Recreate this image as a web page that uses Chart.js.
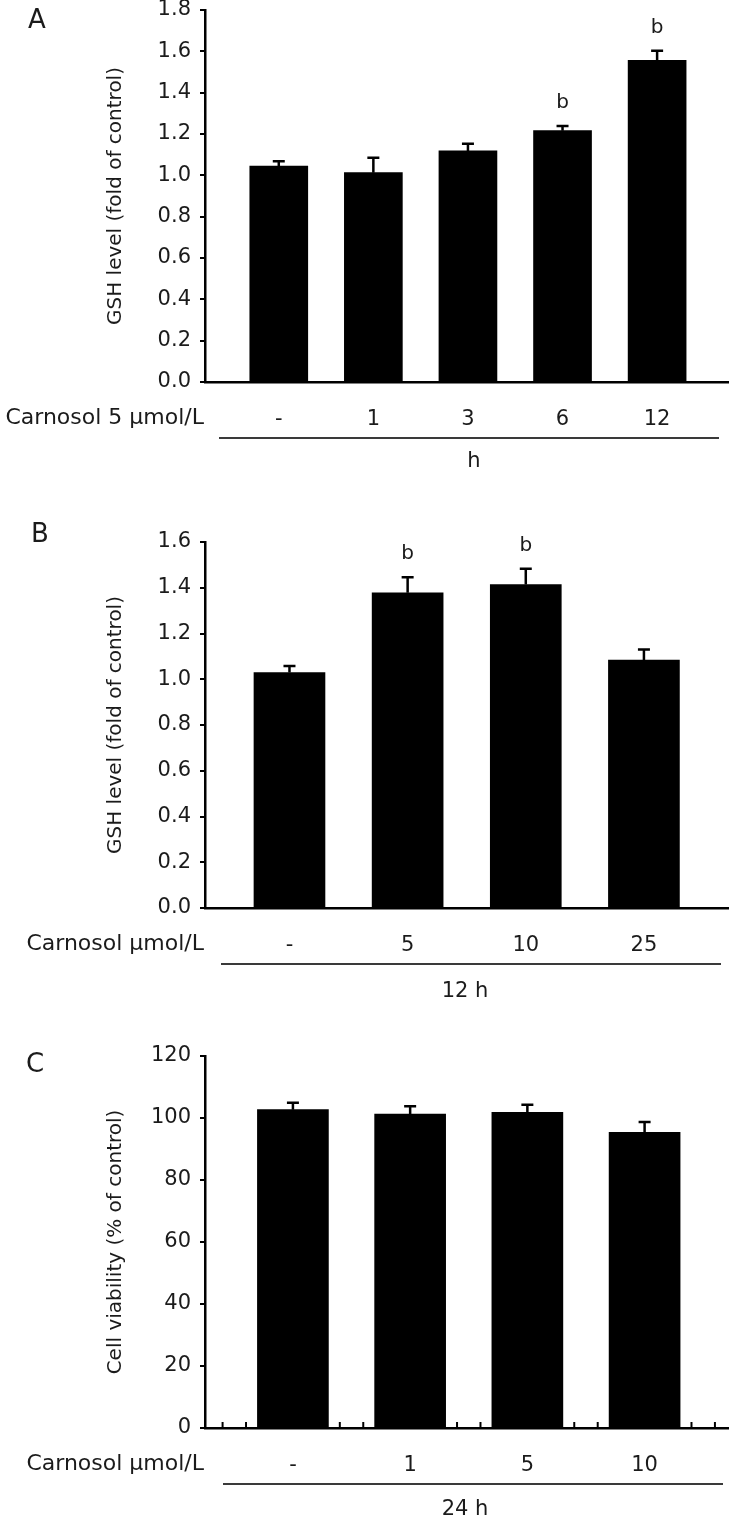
<!DOCTYPE html>
<html>
<head>
<meta charset="utf-8">
<script src="https://cdn.jsdelivr.net/npm/chart.js@4"></script>
<style>
  html, body { margin: 0; padding: 0; background: #fff; overflow: hidden; }
  #wrap { position: relative; width: 729px; height: 1518px; }
  canvas { position: absolute; left: 0; }
</style>
</head>
<body>
<div id="wrap">
  <canvas id="chartA" width="729" height="480" style="top:0px"></canvas>
  <canvas id="chartB" width="729" height="520" style="top:480px"></canvas>
  <canvas id="chartC" width="729" height="518" style="top:1000px"></canvas>
</div>
<script>
// A: GSH over time, carnosol 5 umol/L
const timeLabels = ['-', '1', '3', '6', '12'];
const gshTime = [1.045, 1.013, 1.118, 1.216, 1.556];
const gshTimeErr = [0.023, 0.072, 0.035, 0.023, 0.047];
const gshTimeSig = ['', '', '', 'b', 'b'];

// B: GSH by dose, 12 h
const doseLabels = ['-', '5', '10', '25'];
const gshDose = [1.029, 1.378, 1.414, 1.084];
const gshDoseErr = [0.029, 0.068, 0.069, 0.046];
const gshDoseSig = ['', 'b', 'b', ''];

// C: cell viability, 24 h
const viabLabels = ['-', '1', '5', '10'];
const viability = [102.7, 101.3, 101.8, 95.4];
const viabilityErr = [2.2, 2.5, 2.5, 3.3];
const viabMinorTicks = [0.4, 0.6, 1.4, 1.6, 2.4, 2.6, 3.4, 3.6, 4.4, 4.6];

const FONT = '"DejaVu Sans", sans-serif';
const INK = '#1b1b1b';

// error bars, "b" marks, panel letter, row label and the group line under the axis
const panelText = {
  id: 'panelText',
  afterDatasetsDraw(chart, args, opts) {
    const ctx = chart.ctx;
    const xs = chart.scales.x, ys = chart.scales.y;
    const area = chart.chartArea;
    ctx.save();
    ctx.strokeStyle = '#000';
    ctx.lineWidth = 2.5;
    opts.values.forEach((v, i) => {
      const x = xs.getPixelForValue(i + 1);
      const yBar = ys.getPixelForValue(v);
      const yErr = ys.getPixelForValue(v + opts.errors[i]);
      ctx.beginPath();
      ctx.moveTo(x, yBar);
      ctx.lineTo(x, yErr);
      ctx.moveTo(x - 6, yErr);
      ctx.lineTo(x + 6, yErr);
      ctx.stroke();
      if (opts.sig && opts.sig[i]) {
        ctx.fillStyle = INK;
        ctx.font = '20px ' + FONT;
        ctx.textAlign = 'center';
        ctx.textBaseline = 'middle';
        ctx.fillText(opts.sig[i], x, yErr - 23);
      }
    });
    // small upward ticks on the x axis (panel C)
    if (opts.minorTicks) {
      ctx.lineWidth = 2;
      opts.minorTicks.forEach(t => {
        const x = xs.getPixelForValue(t);
        ctx.beginPath();
        ctx.moveTo(x, area.bottom);
        ctx.lineTo(x, area.bottom - 6);
        ctx.stroke();
      });
    }
    ctx.restore();
  },
  afterDraw(chart, args, opts) {
    const ctx = chart.ctx;
    const bottom = chart.chartArea.bottom;
    ctx.save();
    ctx.fillStyle = INK;
    ctx.textBaseline = 'middle';

    ctx.font = '26px ' + FONT;
    ctx.textAlign = 'center';
    ctx.fillText(opts.letter, opts.letterX, opts.letterY);

    ctx.font = '22px ' + FONT;
    ctx.textAlign = 'right';
    ctx.fillText(opts.rowLabel, 204, bottom + 36);

    ctx.strokeStyle = '#3a3a3a';
    ctx.lineWidth = 2;
    ctx.beginPath();
    ctx.moveTo(opts.lineFrom, bottom + 56);
    ctx.lineTo(opts.lineTo, bottom + 56);
    ctx.stroke();

    ctx.font = '21px ' + FONT;
    ctx.textAlign = 'center';
    ctx.fillText(opts.unit, opts.unitX, bottom + opts.unitDy);
    ctx.restore();
  }
};

function makeChart(id, cfg) {
  const canvas = document.getElementById(id);
  const H = canvas.height;
  return new Chart(canvas, {
    type: 'bar',
    data: {
      datasets: [{
        data: cfg.values.map((v, i) => ({ x: i + 1, y: v })),
        backgroundColor: '#000',
        borderWidth: 0,
        barThickness: cfg.barWidth
      }]
    },
    options: {
      responsive: false,
      animation: false,
      events: [],
      layout: { padding: { top: cfg.top, left: 0, right: 0, bottom: 0 } },
      plugins: {
        legend: { display: false },
        tooltip: { enabled: false },
        panelText: cfg.text
      },
      scales: {
        x: {
          type: 'linear',
          offset: false,
          min: cfg.xMin,
          max: cfg.xMax,
          grid: { display: false },
          border: { display: true, color: '#000', width: 2.5 },
          afterBuildTicks: s => { s.ticks = cfg.labels.map((_, i) => ({ value: i + 1 })); },
          afterFit: s => {
            s.height = H - cfg.bottom;
            s.paddingLeft = 0;
            s.paddingRight = 0;
          },
          ticks: {
            autoSkip: false,
            maxRotation: 0,
            padding: 17,
            color: INK,
            font: { family: FONT, size: 21 },
            callback: v => cfg.labels[v - 1]
          }
        },
        y: {
          min: 0,
          max: cfg.yMax,
          afterFit: s => {
            s.width = 205;
            s.paddingTop = 0;
            s.paddingBottom = 0;
          },
          grid: { drawOnChartArea: false, drawTicks: true, tickLength: 5, color: '#000', lineWidth: 2 },
          border: { display: true, color: '#000', width: 2.5 },
          ticks: {
            stepSize: cfg.yStep,
            padding: 9,
            color: INK,
            font: { family: FONT, size: 21 },
            callback: v => v.toFixed(cfg.decimals)
          },
          title: {
            display: true,
            text: cfg.yTitle,
            color: INK,
            font: { family: FONT, size: 20 },
            padding: { top: 104, bottom: 0 }
          }
        }
      }
    },
    plugins: [panelText]
  });
}

makeChart('chartA', {
  labels: timeLabels, values: gshTime, barWidth: 58,
  xMin: 0.22, xMax: 5.76, yMax: 1.8, yStep: 0.2, decimals: 1,
  top: 10, bottom: 382,
  yTitle: 'GSH level (fold of control)',
  text: {
    values: gshTime, errors: gshTimeErr, sig: gshTimeSig,
    letter: 'A', letterX: 37, letterY: 21,
    rowLabel: 'Carnosol 5 µmol/L', lineFrom: 219, lineTo: 719,
    unit: 'h', unitX: 474, unitDy: 80
  }
});

makeChart('chartB', {
  labels: doseLabels, values: gshDose, barWidth: 71,
  xMin: 0.285, xMax: 4.72, yMax: 1.6, yStep: 0.2, decimals: 1,
  top: 62, bottom: 428,
  yTitle: 'GSH level (fold of control)',
  text: {
    values: gshDose, errors: gshDoseErr, sig: gshDoseSig,
    letter: 'B', letterX: 40, letterY: 55,
    rowLabel: 'Carnosol µmol/L', lineFrom: 221, lineTo: 721,
    unit: '12 h', unitX: 465, unitDy: 84
  }
});

makeChart('chartC', {
  labels: viabLabels, values: viability, barWidth: 71,
  xMin: 0.25, xMax: 4.72, yMax: 120, yStep: 20, decimals: 0,
  top: 56, bottom: 428,
  yTitle: 'Cell viability (% of control)',
  text: {
    values: viability, errors: viabilityErr, minorTicks: viabMinorTicks,
    letter: 'C', letterX: 35, letterY: 65,
    rowLabel: 'Carnosol µmol/L', lineFrom: 223, lineTo: 723,
    unit: '24 h', unitX: 465, unitDy: 82
  }
});
</script>
</body>
</html>
